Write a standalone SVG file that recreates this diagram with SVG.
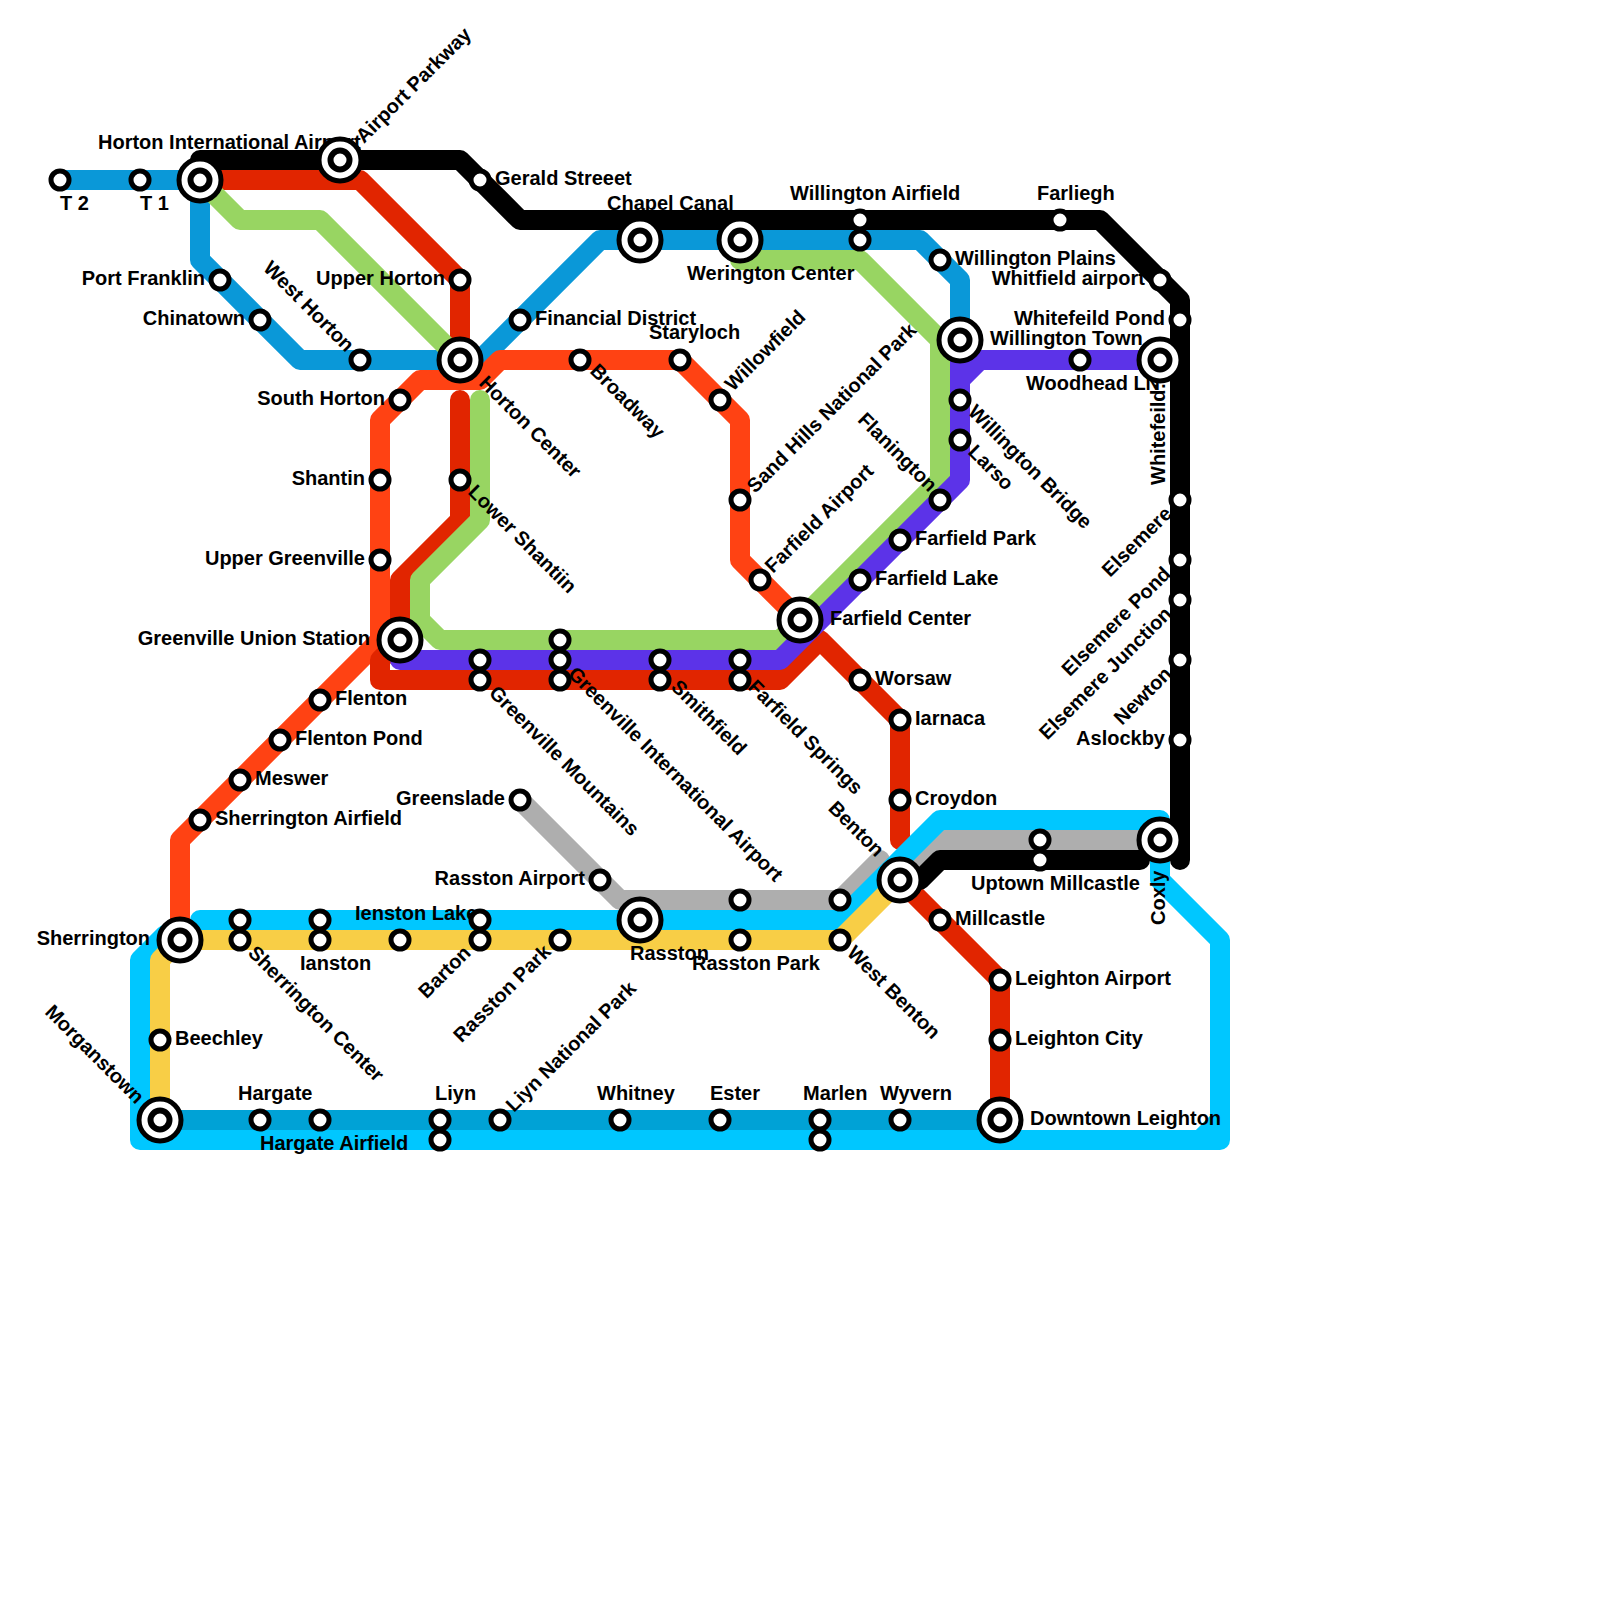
<svg xmlns="http://www.w3.org/2000/svg" width="1600" height="1600" viewBox="0 0 1600 1600">
<style>
.l{fill:none;stroke-width:20;stroke-linejoin:round;stroke-linecap:round}
.p{fill:#fff;stroke:#000;stroke-width:5}
.o{fill:#fff;stroke:#000;stroke-width:5}
.i{fill:#fff;stroke:#000;stroke-width:6}
text{font-family:"Liberation Sans",Arial,sans-serif;font-weight:700;font-size:20px;fill:#000}
.e{text-anchor:end}
</style>
<rect width="1600" height="1600" fill="#fff"/>
<g id="connectors">
<path class="l" stroke="#aeaeae" d="M520 800L620 900H840L880 860M900 880L940 840H1160"/>
<path class="l" stroke="#0a98d8" d="M60 180H200V260L300 360H480L600 240H920L960 280V340"/>
<path class="l" stroke="#ff4213" d="M180 940V840L380 640V420L420 380H480L500 360H680L740 420V560L800 620"/>
<path class="l" stroke="#e12500" d="M200 180H360L460 280V360M460 400V520L400 580V640L380 660V680H780L820 640L900 720V840M900 880L1000 980V1120"/>
<path class="l" stroke="#98d562" d="M200 180L240 220H320L460 360M480 400V520L420 580V620L440 640H780L940 480V340L860 260H740"/>
<path class="l" stroke="#5c33e8" d="M400 640V660H780L960 480V380L980 360H1160M960 340V380"/>
<path class="l" stroke="#000" d="M200 160H460L520 220H1100L1180 300V860M900 880H920L940 860H1140"/>
<path class="l" stroke="#00c7ff" d="M200 920H840L940 820H1160M165 935L140 960V1140H1220V940L1160 880V840M1200 1140L1220 1120"/>
<path class="l" stroke="#f8ce46" d="M160 1120V960L180 940H840L900 880"/>
<path class="l" stroke="#00a2d6" d="M160 1120H1000"/>
</g>
<g id="labels">
<text x="98" y="149">Horton International Airport</text>
<text x="60" y="210">T 2</text>
<text x="140" y="210">T 1</text>
<text transform="translate(364 144) rotate(-45)">Airport Parkway</text>
<text x="495" y="185">Gerald Streeet</text>
<text class="e" x="205" y="285">Port Franklin</text>
<text class="e" x="245" y="325">Chinatown</text>
<text class="e" transform="translate(346 353) rotate(45)">West Horton</text>
<text class="e" x="445" y="285">Upper Horton</text>
<text transform="translate(478 384) rotate(45)">Horton Center</text>
<text x="535" y="325">Financial District</text>
<text transform="translate(589 372) rotate(45)">Broadway</text>
<text x="649" y="339">Staryloch</text>
<text transform="translate(733 392) rotate(-45)">Willowfield</text>
<text class="e" x="385" y="405">South Horton</text>
<text class="e" x="365" y="485">Shantin</text>
<text transform="translate(467 493) rotate(45)">Lower Shantiin</text>
<text class="e" x="365" y="565">Upper Greenville</text>
<text class="e" x="370" y="645">Greenville Union Station</text>
<text x="335" y="705">Flenton</text>
<text x="295" y="745">Flenton Pond</text>
<text x="255" y="785">Meswer</text>
<text x="215" y="825">Sherrington Airfield</text>
<text class="e" x="150" y="945">Sherrington</text>
<text x="607" y="210">Chapel Canal</text>
<text x="687" y="280">Werington Center</text>
<text x="790" y="200">Willington Airfield</text>
<text x="1037" y="200">Farliegh</text>
<text x="955" y="265">Willington Plains</text>
<text class="e" x="1145" y="285">Whitfield airport</text>
<text class="e" x="1165" y="325">Whitefeild Pond</text>
<text x="990" y="345">Willington Town</text>
<text x="1026" y="390">Woodhead LN</text>
<text transform="translate(1165 485) rotate(-90)">Whitefeild:</text>
<text transform="translate(967 413) rotate(45)">Willington Bridge</text>
<text transform="translate(967 453) rotate(45)">Larso</text>
<text class="e" transform="translate(929 493) rotate(45)">Flanington</text>
<text x="915" y="545">Farfield Park</text>
<text x="875" y="585">Farfield Lake</text>
<text x="830" y="625">Farfield Center</text>
<text transform="translate(755 494) rotate(-45)">Sand Hills National Park</text>
<text transform="translate(773 574) rotate(-45)">Farfield Airport</text>
<text class="e" transform="translate(1173 515) rotate(-45)">Elsemere</text>
<text class="e" transform="translate(1172 575) rotate(-45)">Elsemere Pond</text>
<text class="e" transform="translate(1173 615) rotate(-45)">Elsemere Junction</text>
<text class="e" transform="translate(1173 675) rotate(-45)">Newton</text>
<text class="e" x="1165" y="745">Aslockby</text>
<text x="875" y="685">Worsaw</text>
<text x="915" y="725">Iarnaca</text>
<text x="915" y="805">Croydon</text>
<text class="e" transform="translate(876 858) rotate(45)">Benton</text>
<text x="955" y="925">Millcastle</text>
<text x="1015" y="985">Leighton Airport</text>
<text x="1015" y="1045">Leighton City</text>
<text x="1030" y="1125">Downtown Leighton</text>
<text x="971" y="890">Uptown Millcastle</text>
<text transform="translate(1165 925) rotate(-90)">Coxly</text>
<text transform="translate(488 694) rotate(45)">Greenville Mountains</text>
<text transform="translate(567 675) rotate(45)">Greenville International Airport</text>
<text transform="translate(670 688) rotate(45)">Smithfield</text>
<text transform="translate(747 688) rotate(45)">Farfield Springs</text>
<text class="e" x="505" y="805">Greenslade</text>
<text class="e" x="585" y="885">Rasston Airport</text>
<text x="630" y="960">Rasston</text>
<text x="355" y="920">Ienston Lake</text>
<text class="e" transform="translate(472 954) rotate(-45)">Barton</text>
<text x="300" y="970">Ianston</text>
<text transform="translate(247 954) rotate(45)">Sherrington Center</text>
<text class="e" transform="translate(552 953) rotate(-45)">Rasston Park</text>
<text x="692" y="970">Rasston Park</text>
<text transform="translate(846 954) rotate(45)">West Benton</text>
<text x="175" y="1045">Beechley</text>
<text class="e" transform="translate(136 1105) rotate(45)">Morganstown</text>
<text x="238" y="1100">Hargate</text>
<text x="260" y="1150">Hargate Airfield</text>
<text x="435" y="1100">Liyn</text>
<text transform="translate(514 1113) rotate(-45)">Liyn National Park</text>
<text x="597" y="1100">Whitney</text>
<text x="710" y="1100">Ester</text>
<text x="803" y="1100">Marlen</text>
<text x="880" y="1100">Wyvern</text>
</g>
<defs>
<circle id="p" class="p" r="9"/>
<g id="xc"><circle class="o" r="21"/><circle class="i" r="9.5"/></g>
</defs>
<g id="stations">
<g id="t2"><use href="#p" x="60" y="180"/></g>
<g id="t1"><use href="#p" x="140" y="180"/></g>
<g id="gerald-streeet"><use href="#p" x="480" y="180"/></g>
<g id="port-franklin"><use href="#p" x="220" y="280"/></g>
<g id="chinatown"><use href="#p" x="260" y="320"/></g>
<g id="west-horton"><use href="#p" x="360" y="360"/></g>
<g id="upper-horton"><use href="#p" x="460" y="280"/></g>
<g id="financial-district"><use href="#p" x="520" y="320"/></g>
<g id="broadway"><use href="#p" x="580" y="360"/></g>
<g id="staryloch"><use href="#p" x="680" y="360"/></g>
<g id="willowfield"><use href="#p" x="720" y="400"/></g>
<g id="south-horton"><use href="#p" x="400" y="400"/></g>
<g id="shantin"><use href="#p" x="380" y="480"/></g>
<g id="lower-shantiin"><use href="#p" x="460" y="480"/></g>
<g id="upper-greenville"><use href="#p" x="380" y="560"/></g>
<g id="flenton"><use href="#p" x="320" y="700"/></g>
<g id="flenton-pond"><use href="#p" x="280" y="740"/></g>
<g id="meswer"><use href="#p" x="240" y="780"/></g>
<g id="sherrington-airfield"><use href="#p" x="200" y="820"/></g>
<g id="willington-airfield"><use href="#p" x="860" y="220"/><use href="#p" x="860" y="240"/></g>
<g id="farliegh"><use href="#p" x="1060" y="220"/></g>
<g id="willington-plains"><use href="#p" x="940" y="260"/></g>
<g id="whitfield-airport"><use href="#p" x="1160" y="280"/></g>
<g id="whitefeild-pond"><use href="#p" x="1180" y="320"/></g>
<g id="woodhead"><use href="#p" x="1080" y="360"/></g>
<g id="willington-bridge"><use href="#p" x="960" y="400"/></g>
<g id="larso"><use href="#p" x="960" y="440"/></g>
<g id="flanington"><use href="#p" x="940" y="500"/></g>
<g id="farfield-park"><use href="#p" x="900" y="540"/></g>
<g id="farfield-lake"><use href="#p" x="860" y="580"/></g>
<g id="sand-hills"><use href="#p" x="740" y="500"/></g>
<g id="farfield-airport"><use href="#p" x="760" y="580"/></g>
<g id="elsemere"><use href="#p" x="1180" y="500"/></g>
<g id="elsemere-pond"><use href="#p" x="1180" y="560"/></g>
<g id="elsemere-junction"><use href="#p" x="1180" y="600"/></g>
<g id="newton"><use href="#p" x="1180" y="660"/></g>
<g id="aslockby"><use href="#p" x="1180" y="740"/></g>
<g id="worsaw"><use href="#p" x="860" y="680"/></g>
<g id="iarnaca"><use href="#p" x="900" y="720"/></g>
<g id="croydon"><use href="#p" x="900" y="800"/></g>
<g id="millcastle"><use href="#p" x="940" y="920"/></g>
<g id="leighton-airport"><use href="#p" x="1000" y="980"/></g>
<g id="leighton-city"><use href="#p" x="1000" y="1040"/></g>
<g id="uptown-millcastle"><use href="#p" x="1040" y="840"/><use href="#p" x="1040" y="860"/></g>
<g id="greenville-mountains"><use href="#p" x="480" y="660"/><use href="#p" x="480" y="680"/></g>
<g id="greenville-international"><use href="#p" x="560" y="640"/><use href="#p" x="560" y="660"/><use href="#p" x="560" y="680"/></g>
<g id="smithfield"><use href="#p" x="660" y="660"/><use href="#p" x="660" y="680"/></g>
<g id="farfield-springs"><use href="#p" x="740" y="660"/><use href="#p" x="740" y="680"/></g>
<g id="greenslade"><use href="#p" x="520" y="800"/></g>
<g id="rasston-airport"><use href="#p" x="600" y="880"/></g>
<g id="sherrington-center"><use href="#p" x="240" y="920"/><use href="#p" x="240" y="940"/></g>
<g id="ianston"><use href="#p" x="320" y="920"/><use href="#p" x="320" y="940"/></g>
<g id="ienston-lake"><use href="#p" x="400" y="940"/></g>
<g id="barton"><use href="#p" x="480" y="920"/><use href="#p" x="480" y="940"/></g>
<g id="rasston-park-a"><use href="#p" x="560" y="940"/></g>
<g id="rasston-park-b"><use href="#p" x="740" y="900"/><use href="#p" x="740" y="940"/></g>
<g id="west-benton"><use href="#p" x="840" y="900"/><use href="#p" x="840" y="940"/></g>
<g id="beechley"><use href="#p" x="160" y="1040"/></g>
<g id="hargate"><use href="#p" x="260" y="1120"/></g>
<g id="hargate-airfield"><use href="#p" x="320" y="1120"/></g>
<g id="liyn"><use href="#p" x="440" y="1120"/><use href="#p" x="440" y="1140"/></g>
<g id="liyn-national-park"><use href="#p" x="500" y="1120"/></g>
<g id="whitney"><use href="#p" x="620" y="1120"/></g>
<g id="ester"><use href="#p" x="720" y="1120"/></g>
<g id="marlen"><use href="#p" x="820" y="1120"/><use href="#p" x="820" y="1140"/></g>
<g id="wyvern"><use href="#p" x="900" y="1120"/></g>
<g id="horton-international"><use href="#xc" x="200" y="180"/></g>
<g id="airport-parkway"><use href="#xc" x="340" y="160"/></g>
<g id="horton-center"><use href="#xc" x="460" y="360"/></g>
<g id="greenville-union"><use href="#xc" x="400" y="640"/></g>
<g id="sherrington"><use href="#xc" x="180" y="940"/></g>
<g id="chapel-canal"><use href="#xc" x="640" y="240"/></g>
<g id="werington-center"><use href="#xc" x="740" y="240"/></g>
<g id="willington-town"><use href="#xc" x="960" y="340"/></g>
<g id="whitefeild"><use href="#xc" x="1160" y="360"/></g>
<g id="farfield-center"><use href="#xc" x="800" y="620"/></g>
<g id="benton"><use href="#xc" x="900" y="880"/></g>
<g id="coxly"><use href="#xc" x="1160" y="840"/></g>
<g id="rasston"><use href="#xc" x="640" y="920"/></g>
<g id="morganstown"><use href="#xc" x="160" y="1120"/></g>
<g id="downtown-leighton"><use href="#xc" x="1000" y="1120"/></g>
</g>
</svg>
